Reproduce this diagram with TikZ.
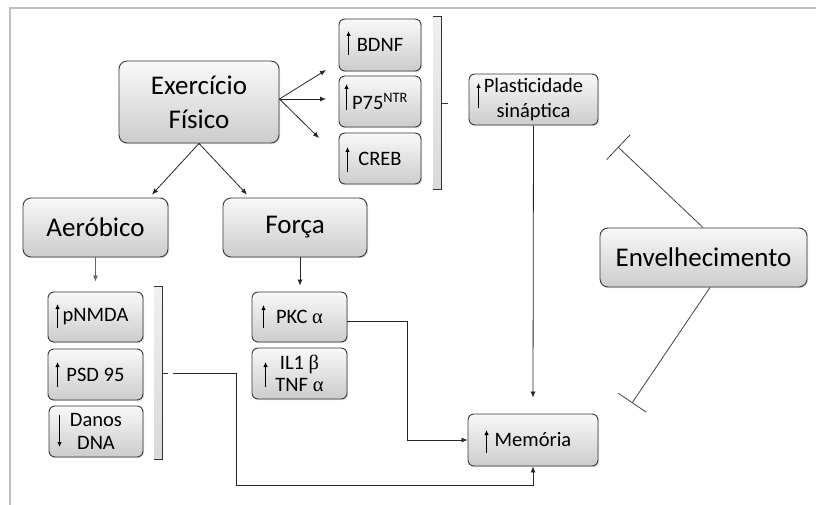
\documentclass[tikz,border=0pt]{standalone}
\usepackage{fontspec}
\setmainfont{Carlito}
\newfontfamily\grk{Liberation Serif}
\usetikzlibrary{arrows.meta,calc,shadows}
\begin{document}
\begin{tikzpicture}[x=1pt,y=-1pt,
  boxbase/.style={draw=black!78, line width=0.9pt, top color=gray!5, bottom color=gray!40,
    inner sep=0pt, align=center, text=black,
    drop shadow={opacity=0.25, shadow xshift=1.2pt, shadow yshift=-1.2pt}},
  bigbox/.style={boxbase, rounded corners=8pt, font=\fontsize{27}{34}\selectfont},
  smallbox/.style={boxbase, rounded corners=6pt, font=\fontsize{20.5}{24}\selectfont},
  conn/.style={draw=black!85, line width=0.8pt, -{Latex[length=6pt,width=5pt]}},
  inarrow/.style={draw=black, line width=0.9pt, -{Latex[length=5pt,width=4.4pt]}},
  inhib/.style={draw=black!75, line width=0.8pt, -{Bar[width=34pt,line width=0.8pt]}},
  strip/.style={inner sep=0pt, top color=gray!12, bottom color=gray!30},
  brk/.style={draw=black!80, line width=0.9pt}]
\useasboundingbox (0,0) rectangle (816,505);
% frame
\draw[gray!50, line width=2pt] (9.5,505) -- (9.5,8.5) -- (816,8.5);

% big boxes
\node[bigbox, minimum width=160pt, minimum height=82pt] (ex) at (199,102) {Exercício\\Físico};
\node[bigbox, minimum width=145pt, minimum height=59pt] (aer) at (95.5,227.5) {Aeróbico};
\node[bigbox, minimum width=144pt, minimum height=59pt] (forca) at (295,227.5) {Força};
\node[bigbox, minimum width=207pt, minimum height=59pt] (env) at (703.5,257.5) {Envelhecimento};

% small boxes
\node[smallbox, minimum width=82pt, minimum height=52pt] (bdnf) at (380,45) {BDNF};
\node[smallbox, minimum width=82pt, minimum height=51pt] (p75) at (380,101.5) {P75\textsuperscript{NTR}};
\node[smallbox, minimum width=82pt, minimum height=51pt] (creb) at (380,158.5) {CREB};
\node[smallbox, minimum width=129pt, minimum height=51pt, font=\fontsize{20.5}{25}\selectfont] (plast) at (533.5,99.5) {Plasticidade\\sináptica};
\node[smallbox, minimum width=95pt, minimum height=50pt] (pnmda) at (95.5,317) {pNMDA};
\node[smallbox, minimum width=95pt, minimum height=51pt] (psd) at (95.5,374.5) {PSD 95};
\node[smallbox, minimum width=94pt, minimum height=51pt, font=\fontsize{20.5}{23}\selectfont] (danos) at (96,431.5) {Danos\\DNA};
\node[smallbox, minimum width=95pt, minimum height=50pt] (pkc) at (299.5,317) {PKC {\grk α}};
\node[smallbox, minimum width=95pt, minimum height=51pt, font=\fontsize{20.5}{22}\selectfont] (il1) at (299.5,373.5) {IL1 {\grk β}\\TNF {\grk α}};
\node[smallbox, minimum width=130pt, minimum height=52pt] (mem) at (533,440) {Memória};

% arrows inside boxes
\draw[inarrow] ($(bdnf.west)+(10,10)$) -- ($(bdnf.west)+(10,-14)$);
\draw[inarrow] ($(p75.west)+(8,8.5)$) -- ($(p75.west)+(8,-17.5)$);
\draw[inarrow] ($(creb.west)+(9,13.5)$) -- ($(creb.west)+(9,-11.5)$);
\draw[inarrow] ($(plast.west)+(10,8.5)$) -- ($(plast.west)+(10,-16.5)$);
\draw[inarrow] ($(pnmda.west)+(10,11)$) -- ($(pnmda.west)+(10,-13)$);
\draw[inarrow] ($(psd.west)+(10,12.5)$) -- ($(psd.west)+(10,-12.5)$);
\draw[inarrow] ($(danos.west)+(11,-16.5)$) -- ($(danos.west)+(11,15.5)$);
\draw[inarrow] ($(pkc.west)+(12,11)$) -- ($(pkc.west)+(12,-12)$);
\draw[inarrow] ($(il1.west)+(14,13.5)$) -- ($(il1.west)+(14,-11.5)$);
\draw[inarrow] ($(mem.west)+(19,13)$) -- ($(mem.west)+(19,-10)$);

% brackets
\node[strip, minimum width=8pt, minimum height=172pt] (br1) at (437,103) {};
\draw[brk] (br1.north west) -- (br1.north east) -- (br1.south east) -- (br1.south west);
\draw[brk] (br1.east) -- ++(7,0);
\node[strip, minimum width=8pt, minimum height=172pt] (br2) at (158,373) {};
\draw[brk] (br2.north west) -- (br2.north east) -- (br2.south east) -- (br2.south west);
\draw[brk] (br2.east) -- ++(6,0);

% free ends
\coordinate (t1) at (326,70);
\coordinate (t2) at (326,99);
\coordinate (t3) at (319,138);

% connectors
\draw[conn] ($(ex.east)+(0,-3)$) -- (t1);
\draw[conn] ($(ex.east)+(0,-3)$) -- (t2);
\draw[conn] ($(ex.east)+(0,-3)$) -- (t3);
\draw[conn] (ex.south) -- ($(aer.north)+(56.5,-3)$);
\draw[conn] (ex.south) -- ($(forca.north)+(-48,-3)$);
\draw[conn, draw=black!60] (aer.south -| pnmda.north) -- ($(pnmda.north)+(0,-10)$);
\draw[conn] (forca.south -| 300,0) -- ($(pkc.north)+(0.5,-6)$);
\draw[conn] (plast.south) -- ($(mem.north)+(0,-16)$);
\draw[conn] ($(pkc.east)+(0,4)$) -| ($(mem.west)+(-60,0)$) -- (mem.west);
\draw[conn] ($(br2.east)+(11,0)$) -- ($(br2.east)+(74,0)$) |- ($(mem.south)+(0,19)$) -- (mem.south);

% inhibition
\draw[inhib] ($(env.north)+(-0.5,0)$) -- (618,147);
\draw[inhib] ($(env.south)+(6.5,0)$) -- (632,403);
\end{tikzpicture}
\end{document}
